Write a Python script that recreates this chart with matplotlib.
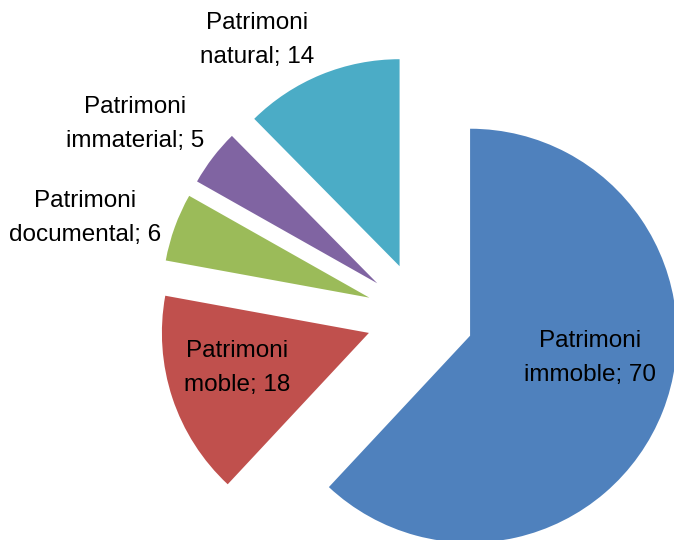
import numpy as np
import matplotlib.pyplot as plt
import matplotlib as mpl

mpl.rcParams['font.family'] = 'Liberation Sans'

# data
labels = ['Patrimoni\nimmoble; 70', 'Patrimoni\nmoble; 18', 'Patrimoni\ndocumental; 6',
          'Patrimoni\nimmaterial; 5', 'Patrimoni\nnatural; 14']
values = [70, 18, 6, 5, 14]
colors = ['#4F81BD', '#C0504D', '#9BBB59', '#8064A2', '#4BACC6']

# label placement (radius, angle in deg) relative to pie centre
lab_r = [0.846, 0.919, 1.686, 1.660, 1.548]
lab_th = [-13.9, 195.9, 163.7, 146.0, 120.6]

fig = plt.figure(figsize=(6.74, 5.40), dpi=100)
ax = fig.add_axes([0, 0, 1, 1])
ax.pie(values, colors=colors, startangle=90, counterclock=False,
       explode=[0.26]*5, radius=1.0, wedgeprops=dict(linewidth=0))

for lab, r, th in zip(labels, lab_r, lab_th):
    x = r * np.cos(np.radians(th))
    y = r * np.sin(np.radians(th))
    ax.text(x, y, lab, ha='center', va='center', multialignment='center',
            fontsize=17.5, color='black', linespacing=1.68)

R = 207.0
ax.set_xlim(-420/R, 254/R)
ax.set_ylim(-224/R, 316/R)
ax.set_aspect('auto')
ax.axis('off')

fig.savefig('out.png', dpi=100)
